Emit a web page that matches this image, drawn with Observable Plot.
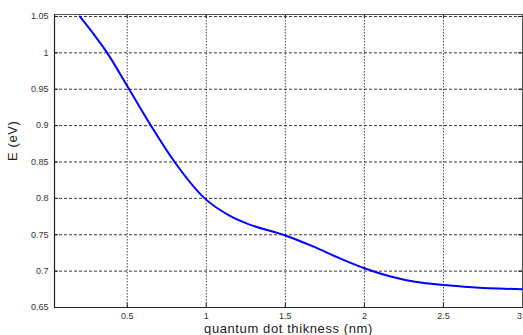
<!DOCTYPE html>
<html>
<head>
<meta charset="utf-8">
<script src="https://cdn.jsdelivr.net/npm/d3@7"></script>
<script src="https://cdn.jsdelivr.net/npm/@observablehq/plot@0.6"></script>
<style>
  html, body { margin: 0; padding: 0; background: #fff; }
  #chart svg { display: block; }
</style>
</head>
<body>
<div id="chart"></div>
<script>
const thickness = [0.2, 0.29, 0.373, 0.512, 0.65, 0.80, 0.99, 1.15, 1.25, 1.5, 1.675, 1.84, 2.0, 2.16, 2.33, 2.5, 2.68, 3.0];
const energy    = [1.05, 1.025, 1.0, 0.95, 0.9, 0.85, 0.8, 0.776, 0.766, 0.749, 0.734, 0.718, 0.704, 0.693, 0.685, 0.681, 0.678, 0.675];
const xTicks = [0.5, 1, 1.5, 2, 2.5, 3];
const yTicks = [0.65, 0.7, 0.75, 0.8, 0.85, 0.9, 0.95, 1, 1.05];
const xLabel = "quantum dot thikness (nm)";
const yLabel = "E (eV)";

const data = thickness.map((x, i) => ({x, y: energy[i]}));
const fmt = d => String(+d.toFixed(2));
const W = 523, H = 335, mT = 14, mB = 28, mL = 54, mR = 1;
const plotH = H - mT - mB, plotW = W - mL - mR;
const lastX = xTicks[xTicks.length - 1];

const chart = Plot.plot({
  width: W, height: H,
  marginTop: mT, marginBottom: mB, marginLeft: mL, marginRight: mR,
  style: {fontFamily: "'Liberation Sans', Arial, sans-serif", background: "#fff"},
  x: {domain: [0.04, 3], label: null},
  y: {domain: [0.65, 1.0527], label: null},
  marks: [
    Plot.gridX(xTicks, {stroke: "#333", strokeOpacity: 0.9, strokeDasharray: "1.5,1.5", strokeWidth: 1}),
    Plot.gridY(yTicks, {stroke: "#222", strokeOpacity: 0.9, strokeDasharray: "3,2", strokeWidth: 1}),
    Plot.ruleX(xTicks, {stroke: "#222", insetTop: plotH - 4}),
    Plot.ruleX(xTicks, {stroke: "#222", insetBottom: plotH - 4}),
    Plot.ruleY(yTicks, {stroke: "#222", insetRight: plotW - 4}),
    Plot.ruleY(yTicks, {stroke: "#222", insetLeft: plotW - 4}),
    Plot.frame({stroke: "#555", strokeWidth: 1}),
    Plot.axisX(xTicks.filter(d => d !== lastX), {tickSize: 0, tickPadding: 5, tickFormat: fmt, fontSize: 9, color: "#333", label: null}),
    Plot.axisX([lastX], {tickSize: 0, tickPadding: 5, tickFormat: fmt, fontSize: 9, color: "#333", label: null, dx: -3}),
    Plot.axisY(yTicks, {tickSize: 0, tickPadding: 6, tickFormat: fmt, fontSize: 9, color: "#333", label: null}),
    Plot.text([xLabel], {frameAnchor: "bottom", dy: 25, text: d => d, fontSize: 13, fill: "#222", lineAnchor: "bottom"}),
    Plot.text([yLabel], {frameAnchor: "left", dx: -42, text: d => d, fontSize: 13, fill: "#222", rotate: -90}),
    Plot.ruleX([0.04], {stroke: "#222", strokeWidth: 1.2}),
    Plot.ruleY([0.65], {stroke: "#222", strokeWidth: 1.2}),
    Plot.line(data, {x: "x", y: "y", curve: "monotone-x", stroke: "#0000ff", strokeWidth: 2})
  ]
});
chart.querySelectorAll("text").forEach(t => {
  if (t.textContent === xLabel || t.textContent === yLabel) t.setAttribute("letter-spacing", "0.6");
});
document.getElementById("chart").appendChild(chart);
</script>
</body>
</html>
